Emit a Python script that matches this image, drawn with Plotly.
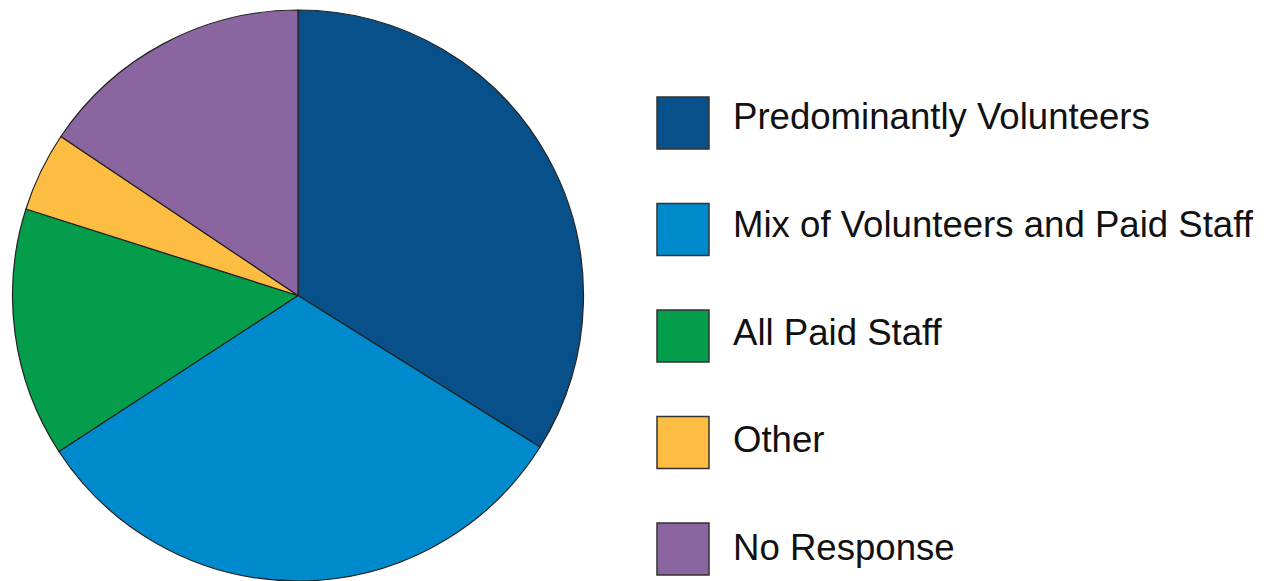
import plotly.graph_objects as go

# Staffing categories and their shares (percent)
categories = [
    "Predominantly Volunteers",
    "Mix of Volunteers and Paid Staff",
    "All Paid Staff",
    "Other",
    "No Response",
]
shares = [33.9, 31.9, 14.1, 4.5, 15.6]
colors = ["#07508A", "#008ACE", "#049D4C", "#FCBD42", "#8B659F"]

W, H = 1272, 581

fig = go.Figure(
    go.Pie(
        labels=categories,
        values=shares,
        marker=dict(colors=colors, line=dict(color="#222222", width=1.2)),
        sort=False,
        direction="clockwise",
        rotation=0,
        textinfo="none",
        hoverinfo="label+percent",
        showlegend=False,
        domain=dict(x=[12 / W, 584 / W], y=[0, 1 - 10 / H]),
    )
)

# Custom legend: large swatches with labels to the right
sw = 52
x0 = 657
y_first = 97
step = 106.5
text_first = 117
text_step = 107.6
shapes = []
annotations = []
for i, (label, col) in enumerate(zip(categories, colors)):
    top = y_first + i * step
    shapes.append(
        dict(
            type="rect",
            xref="paper",
            yref="paper",
            x0=x0 / W,
            x1=(x0 + sw) / W,
            y0=1 - (top + sw) / H,
            y1=1 - top / H,
            fillcolor=col,
            line=dict(color="#333333", width=1.5),
        )
    )
    annotations.append(
        dict(
            xref="paper",
            yref="paper",
            x=731 / W,
            y=1 - (text_first + i * text_step) / H,
            xanchor="left",
            yanchor="middle",
            text=label,
            showarrow=False,
            font=dict(family="Liberation Sans, Arial, sans-serif", size=36.6, color="#111111"),
        )
    )

fig.update_layout(
    width=W,
    height=H,
    margin=dict(l=0, r=0, t=0, b=0),
    paper_bgcolor="white",
    plot_bgcolor="white",
    shapes=shapes,
    annotations=annotations,
)

fig.write_html("out.html")
